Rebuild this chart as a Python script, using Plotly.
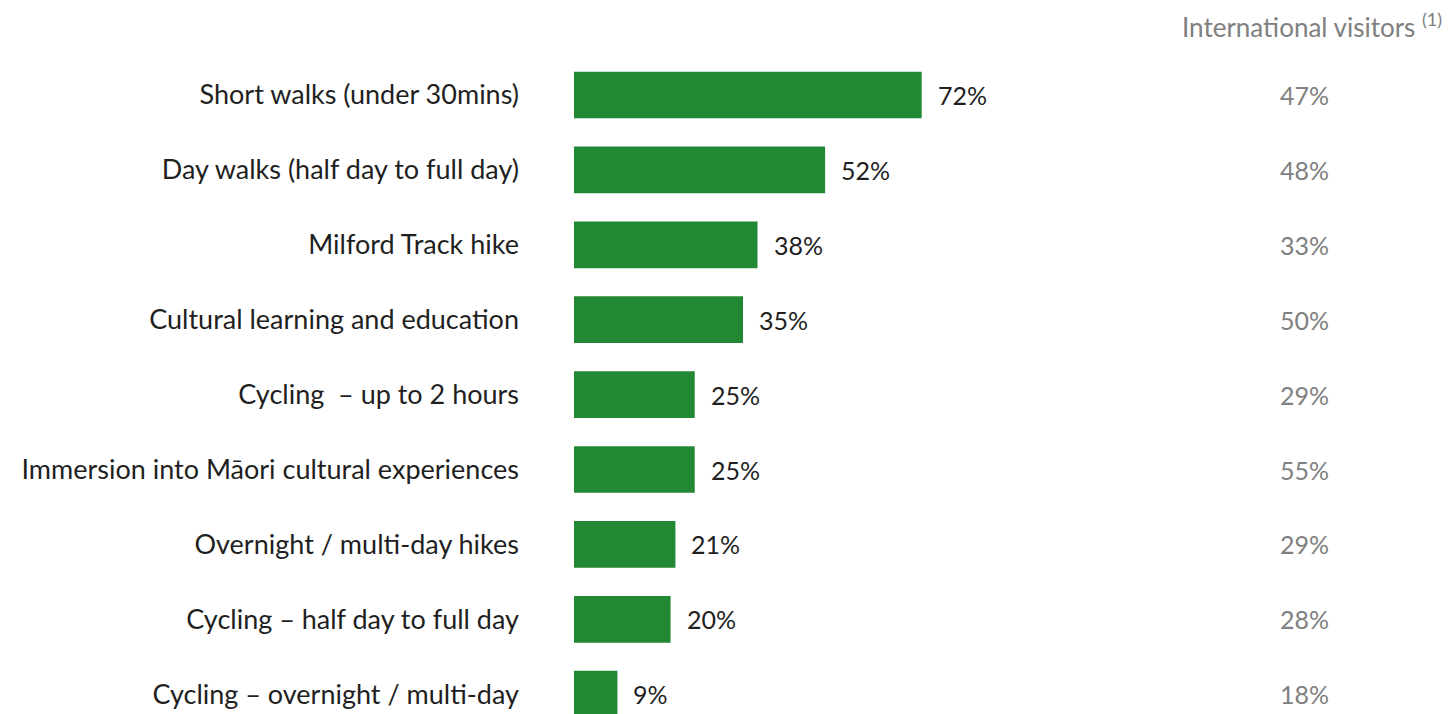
import plotly.graph_objects as go

activities = [
    "Short walks (under 30mins)",
    "Day walks (half day to full day)",
    "Milford Track hike",
    "Cultural learning and education",
    "Cycling  – up to 2 hours",
    "Immersion into Māori cultural experiences",
    "Overnight / multi-day hikes",
    "Cycling – half day to full day",
    "Cycling – overnight / multi-day",
]
domestic_pct = [72, 52, 38, 35, 25, 25, 21, 20, 9]
international_pct = [47, 48, 33, 50, 29, 55, 29, 28, 18]

GREEN = "#238833"
DARK = "#1f1f1f"
GREY = "#808080"
FONT = "Lato"

W, H = 1448, 714
PLOT_LEFT = 574          # pixel where the bars start
PX_PER_PCT = 4.829       # horizontal scale of the bars
ROW_PX = 74.9            # vertical distance between rows
FIRST_ROW_PX = 95        # centre of the first row

positions = list(range(len(activities)))


def px_to_paper_x(px):
    return (px - PLOT_LEFT) / (W - PLOT_LEFT)


fig = go.Figure(
    go.Bar(
        x=domestic_pct,
        y=positions,
        orientation="h",
        marker=dict(color=GREEN, line=dict(width=0)),
        width=0.623,
        hoverinfo="skip",
    )
)

annotations = []
for pos, val, intl in zip(positions, domestic_pct, international_pct):
    annotations.append(dict(
        x=val, y=pos, xref="x", yref="y", text=f"{val}%",
        xanchor="left", yanchor="middle", xshift=14, showarrow=False,
        font=dict(family=FONT, size=25, color=DARK),
    ))
    annotations.append(dict(
        x=px_to_paper_x(1331), y=pos, xref="paper", yref="y", text=f"{intl}%",
        xanchor="right", yanchor="middle", showarrow=False,
        font=dict(family=FONT, size=25, color=GREY),
    ))

annotations.append(dict(
    x=px_to_paper_x(1444), y=1 - 26 / H, xref="paper", yref="paper",
    text="International visitors <sup>(1)</sup>",
    xanchor="right", yanchor="middle", showarrow=False,
    font=dict(family=FONT, size=26, color=GREY),
))

fig.update_layout(
    width=W,
    height=H,
    margin=dict(l=PLOT_LEFT, r=0, t=0, b=0),
    paper_bgcolor="white",
    plot_bgcolor="white",
    showlegend=False,
    annotations=annotations,
    xaxis=dict(
        range=[0, (W - PLOT_LEFT) / PX_PER_PCT],
        visible=False,
        fixedrange=True,
    ),
    yaxis=dict(
        range=[(H - FIRST_ROW_PX) / ROW_PX, -FIRST_ROW_PX / ROW_PX],
        tickmode="array",
        tickvals=positions,
        ticktext=activities,
        ticks="",
        showgrid=False,
        zeroline=False,
        showline=False,
        ticklabelstandoff=54,
        tickfont=dict(family=FONT, size=27, color=DARK),
        fixedrange=True,
    ),
)

fig.write_html("out.html")
